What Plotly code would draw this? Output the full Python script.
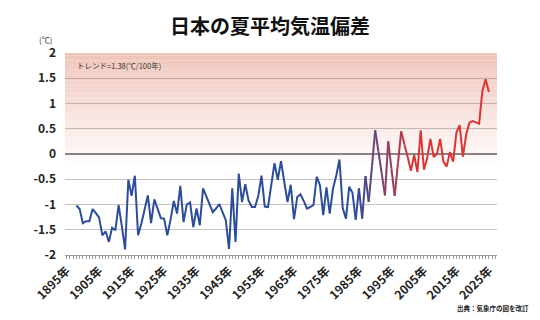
import plotly.graph_objects as go

years = list(range(1898, 2026))
anomaly = [
    -1.02, -1.09, -1.37, -1.33, -1.33, -1.09, -1.17, -1.26, -1.61, -1.53,  # 1898-1907
    -1.74, -1.46, -1.51, -1.01, -1.43, -1.89, -0.51, -0.83, -0.43, -1.61,  # 1908-1917
    -1.38, -1.12, -0.82, -1.37, -0.90, -1.08, -1.27, -1.28, -1.61, -1.30,  # 1918-1927
    -0.93, -1.18, -0.63, -1.35, -1.00, -0.96, -1.45, -1.08, -1.41, -0.68,  # 1928-1937
    -0.85, -1.00, -1.15, -1.08, -0.99, -1.15, -1.31, -1.88, -0.68, -1.74,  # 1938-1947
    -0.39, -0.95, -0.60, -0.92, -1.05, -1.05, -0.83, -0.43, -1.04, -1.05,  # 1948-1957
    -0.62, -0.18, -0.51, -0.14, -0.55, -0.95, -0.61, -1.29, -0.85, -0.80,  # 1958-1967
    -0.93, -1.08, -1.05, -1.01, -0.45, -0.62, -1.21, -0.66, -1.18, -0.69,  # 1968-1977
    -0.43, -0.11, -1.07, -1.28, -0.65, -0.77, -1.30, -0.68, -1.28, -0.44,  # 1978-1987
    -0.95, -0.25, 0.47, 0.05, -0.38, -0.82, 0.25, -0.29, -0.83, -0.19,     # 1988-1997
    0.45, 0.19, -0.06, -0.33, -0.02, -0.36, 0.47, -0.31, -0.08, 0.30,      # 1998-2007
    -0.06, 0.00, 0.30, -0.15, -0.25, 0.04, -0.15, 0.42, 0.57, -0.05,       # 2008-2017
    0.38, 0.62, 0.65, 0.63, 0.60, 1.25, 1.48, 1.23,                        # 2018-2025
]
assert len(years) == len(anomaly)

tick_years = [1895, 1905, 1915, 1925, 1935, 1945, 1955, 1965, 1975, 1985, 1995, 2005, 2015, 2025]
tick_labels = [f"{y}年" for y in tick_years]
y_ticks = [2, 1.5, 1, 0.5, 0, -0.5, -1, -1.5, -2]
y_labels = ["2", "1.5", "1", "0.5", "0", "-0.5", "-1", "-1.5", "-2"]

BLUE = (44, 76, 156)
RED = (220, 52, 50)
GRAD_START, GRAD_END = 1984, 2002

def color_for(year):
    t = (year - GRAD_START) / (GRAD_END - GRAD_START)
    t = max(0.0, min(1.0, t))
    c = [round(BLUE[i] + (RED[i] - BLUE[i]) * t) for i in range(3)]
    return f"rgb({c[0]},{c[1]},{c[2]})"

fig = go.Figure()

# blue part
idx_b = [i for i, y in enumerate(years) if y <= GRAD_START]
fig.add_trace(go.Scatter(x=[years[i] for i in idx_b], y=[anomaly[i] for i in idx_b],
                         mode="lines", line=dict(color=color_for(GRAD_START), width=2),
                         showlegend=False, hoverinfo="skip"))
# gradient segments
for i in range(len(years) - 1):
    if years[i] >= GRAD_START and years[i + 1] <= GRAD_END:
        mid = (years[i] + years[i + 1]) / 2
        fig.add_trace(go.Scatter(x=years[i:i + 2], y=anomaly[i:i + 2], mode="lines",
                                 line=dict(color=color_for(mid), width=2),
                                 showlegend=False, hoverinfo="skip"))
# red part
idx_r = [i for i, y in enumerate(years) if y >= GRAD_END]
fig.add_trace(go.Scatter(x=[years[i] for i in idx_r], y=[anomaly[i] for i in idx_r],
                         mode="lines", line=dict(color=color_for(GRAD_END), width=2),
                         showlegend=False, hoverinfo="skip"))

# pink gradient background
TOP_C = (240, 195, 185)
n_strips = 46
y_top, y_bot = 2.0, -0.3
shapes = []
for k in range(n_strips):
    y1 = y_top - (y_top - y_bot) * k / n_strips
    y0 = y_top - (y_top - y_bot) * (k + 1) / n_strips
    t = (k + 0.5) / n_strips
    c = [round(TOP_C[j] + (255 - TOP_C[j]) * t) for j in range(3)]
    shapes.append(dict(type="rect", xref="paper", yref="y", x0=0, x1=1, y0=y0, y1=y1,
                       fillcolor=f"rgb({c[0]},{c[1]},{c[2]})", line=dict(width=0),
                       layer="below"))

FONT = "Noto Sans CJK JP"

fig.update_layout(
    width=540, height=320,
    margin=dict(l=65, r=43, t=53, b=65),
    paper_bgcolor="white", plot_bgcolor="white",
    shapes=shapes,
    font=dict(family=FONT, color="#222222"),
    title=dict(text="日本の夏平均気温偏差", x=0.5, xanchor="center", y=0.915, yanchor="middle",
               font=dict(family=FONT, size=20, color="#111111", weight="bold")),
    xaxis=dict(range=[1894.5, 2027.5], tickvals=tick_years, ticktext=tick_labels,
               tickangle=-45, ticks="outside", ticklen=3, tickcolor="#999999",
               minor=dict(dtick=1, tick0=1895, ticks="outside", ticklen=3, tickcolor="#999999",
                          showgrid=False),
               showline=True, linecolor="#9a9a9a", linewidth=1, showgrid=False, zeroline=False,
               tickfont=dict(family=FONT, size=12, color="#222222", weight="bold")),
    yaxis=dict(range=[-2, 2], tickvals=y_ticks, ticktext=y_labels,
               showgrid=True, gridcolor="rgba(120,100,100,0.4)", gridwidth=1,
               zeroline=True, zerolinecolor="#8c8484", zerolinewidth=1.5,
               showline=False, ticks="", ticklabelstandoff=8,
               tickfont=dict(family=FONT, size=12, color="#222222", weight="bold")),
    annotations=[
        dict(text="(℃)", xref="paper", yref="paper", x=-0.045, y=1.068, xanchor="center",
             yanchor="middle", showarrow=False, font=dict(family=FONT, size=8, color="#333333")),
        dict(text="トレンド=1.38(℃/100年)", xref="paper", yref="paper", x=0.022, y=0.936,
             xanchor="left", yanchor="middle", showarrow=False,
             font=dict(family=FONT, size=7.5, color="#333333")),
        dict(text="出典：気象庁の図を改訂", xref="paper", yref="paper", x=1.078, y=-0.262,
             xanchor="right", yanchor="middle", showarrow=False,
             font=dict(family=FONT, size=6.5, color="#222222", weight="bold")),
    ],
)

fig.write_html("out.html")
